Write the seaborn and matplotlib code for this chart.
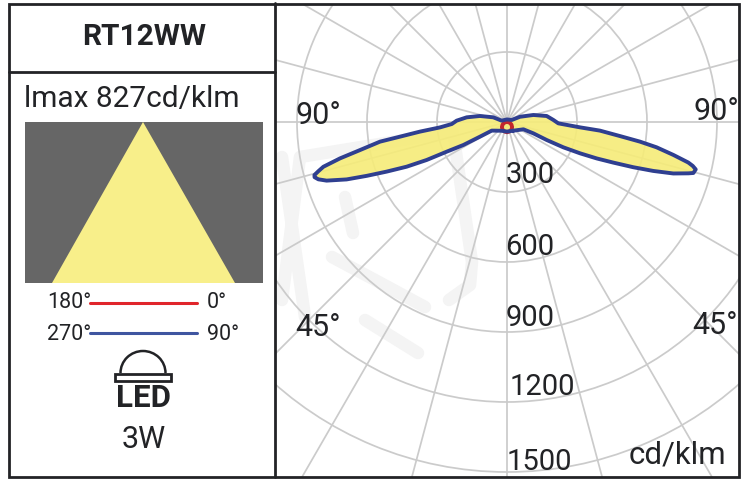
import numpy as np
import pandas as pd
import seaborn as sns
import matplotlib
matplotlib.use("Agg")
import matplotlib.pyplot as plt
from matplotlib.patches import Rectangle, Polygon, Arc

# ---- data ----
blue_theta_deg = [36, 66, 66.7, 65.6, 65.8, 66.8, 67.9, 69.1, 70.3, 71.5, 72.8, 74.2, 74.7, 75.9, 76.7, 77.4, 78.8, 80.4,
                  81.6, 82.9, 84.7, 85.8, 88.5, 92.5, 98.6, 104.9, 112, 113, 180,
                  -104, -108.9, -102.5, -96.6, -91.5, -87.9, -85.4, -83.7, -82.2, -81.2, -79.2, -77.7, -76.3,
                  -75.4, -74.6, -74, -73.1, -72, -70.3, -69, -67.6, -66, -64.7, -63.8, -62.2, -61.5, -60.5, -31.6, 0, 36]
blue_cd = [46, 77, 123, 187, 265, 341, 415, 488, 575, 661, 746, 808, 828, 834, 818, 796, 727, 650,
           576, 488, 400, 314, 220, 199, 172, 117, 60, 22, 11,
           24, 62, 119, 174, 216, 237, 288, 375, 463, 551, 641, 733, 810,
           835, 856, 858, 845, 813, 730, 644, 558, 471, 381, 288, 211, 132, 75, 44, 41, 46]
red_theta_deg = [-90, -75, -60, -45, -30, -15, 0, 15, 30, 45, 60, 75, 90, 180, -90]
red_cd = [3, 12, 22, 31, 38, 42, 44, 42, 38, 31, 22, 12, 3, 2, 3]
ring_values = [300, 600, 900, 1200, 1500]
spoke_angles = list(range(0, 360, 15))
ring_labels = ["300", "600", "900", "1200", "1500"]

sns.set_theme(style="white", rc={"axes.grid": True})
plt.rcParams["font.family"] = ["Roboto", "DejaVu Sans"]

W, H = 750, 480
fig = plt.figure(figsize=(W / 100, H / 100), dpi=100, facecolor="white")

DARK = "#222326"
GRID = "#cbcbcb"
BLUE = "#2f3f90"
RED = "#c1272d"
YELLOW = "#f6ec78"

# --- watermark layer
wm = fig.add_axes([0, 0, 1, 1], zorder=0)
wm.set_xlim(0, W); wm.set_ylim(H, 0); wm.axis("off")
for xs, ys in [([282, 300, 453, 472, 470, 449], [300, 157, 132, 262, 285, 300]),
               ([282, 305], [157, 317]),
               ([345, 353], [197, 233]),
               ([332, 375, 425], [257, 280, 307]),
               ([365, 418], [320, 353])]:
    wm.plot(xs, ys, color="#f4f4f4", lw=9, solid_capstyle="round", solid_joinstyle="round")

# --- polar plot
CX, CY = 507, 122
PX_PER_CD = 70 / 300
RMAX = 1900
RPX = RMAX * PX_PER_CD
ax = fig.add_axes([(CX - RPX) / W, (H - CY - RPX) / H, 2 * RPX / W, 2 * RPX / H], polar=True, zorder=1)
ax.patch.set_alpha(0)
ax.set_theta_zero_location("S")
ax.set_theta_direction(1)
ax.set_rlim(0, RMAX)
ax.set_rticks(ring_values)
ax.set_xticks(np.deg2rad(spoke_angles))
ax.set_xticklabels([]); ax.set_yticklabels([])
ax.grid(True, color=GRID, lw=1.25)
ax.spines["polar"].set_visible(False)
ax.set_axisbelow(True)

blue_t = np.deg2rad(blue_theta_deg)
red_t = np.deg2rad(red_theta_deg)
ax.fill(blue_t, blue_cd, color=YELLOW, alpha=0.9, lw=0, zorder=2)
for g in ax.get_xgridlines() + ax.get_ygridlines():
    g.set_zorder(2.5)
df_red = pd.DataFrame({"t": red_t, "r": red_cd})
df_blue = pd.DataFrame({"t": blue_t, "r": blue_cd})
sns.lineplot(data=df_red, x="t", y="r", sort=False, estimator=None, color=RED, lw=2.8, ax=ax, zorder=3)
sns.lineplot(data=df_blue, x="t", y="r", sort=False, estimator=None, color=BLUE, lw=2.8, ax=ax, zorder=4)
for ln in ax.get_lines():
    ln.set_solid_joinstyle("round")
ax.set_xlabel(""); ax.set_ylabel("")
ax.set_xticks(np.deg2rad(spoke_angles)); ax.set_xticklabels([]); ax.set_yticklabels([])
ax.set_rlim(0, RMAX)

# --- overlay: panel, frame, text
ov = fig.add_axes([0, 0, 1, 1], zorder=5)
ov.set_xlim(0, W); ov.set_ylim(H, 0); ov.axis("off"); ov.patch.set_alpha(0)
for x, y, w, h in [(0, 0, 275, H), (739, 0, 11, H), (0, 0, W, 4), (0, 477, W, 3)]:
    ov.add_patch(Rectangle((x, y), w, h, fc="white", ec="none", zorder=1))
ov.add_patch(Rectangle((9, 3.5), 730, 473.5, fc="none", ec=DARK, lw=2, zorder=6))
ov.plot([275, 275], [3, 477], color=DARK, lw=2, zorder=6)
ov.plot([9, 275], [72, 72], color=DARK, lw=2, zorder=6)

ov.text(144, 37, "RT12WW", ha="center", va="center", fontsize=21.5, fontweight="bold", color=DARK, zorder=7)
ov.text(131.5, 99, "lmax 827cd/klm", ha="center", va="center", fontsize=21.5, color=DARK, zorder=7)

ov.add_patch(Rectangle((25, 122), 238, 161, fc="#666666", ec="none", zorder=2))
ov.add_patch(Polygon([(143, 122), (52, 283), (235, 283)], fc="#f8ef8a", ec="none", zorder=3))

ov.plot([90, 197], [303, 303], color="#e0252b", lw=2.2, zorder=4)
ov.plot([90, 197], [333, 333], color="#3f55a0", lw=2.2, zorder=4)
ov.text(91, 303, "180°", ha="right", va="center", fontsize=15.5, color=DARK, zorder=7)
ov.text(207, 303, "0°", ha="left", va="center", fontsize=15.5, color=DARK, zorder=7)
ov.text(91, 334, "270°", ha="right", va="center", fontsize=15.5, color=DARK, zorder=7)
ov.text(207, 334, "90°", ha="left", va="center", fontsize=15.5, color=DARK, zorder=7)

# LED icon
ov.add_patch(Arc((143, 373), 45, 44, theta1=180, theta2=360, ec=DARK, lw=1.8, zorder=4))
ov.add_patch(Rectangle((114.5, 373.5), 56, 7, fc="white", ec=DARK, lw=2, zorder=4))
ov.text(143, 398, "LED", ha="center", va="center", fontsize=22.5, fontweight="bold", color=DARK, zorder=7)
ov.text(144, 439, "3W", ha="center", va="center", fontsize=22, color=DARK, zorder=7)

# polar labels
for xx, yy, s in [(318, 115, "90°"), (716, 112, "90°"), (318, 327, "45°"), (715, 325, "45°")]:
    ov.text(xx, yy, s, ha="center", va="center", fontsize=22, color=DARK, zorder=7)
for xx, yy, s in zip([530, 530, 530, 542, 539], [175, 247, 318, 387, 462], ring_labels):
    ov.text(xx, yy, s, ha="center", va="center", fontsize=21, color=DARK, zorder=7)
ov.text(677, 455, "cd/klm", ha="center", va="center", fontsize=22.5, color=DARK, zorder=7)

fig.savefig("out.png", dpi=100)
